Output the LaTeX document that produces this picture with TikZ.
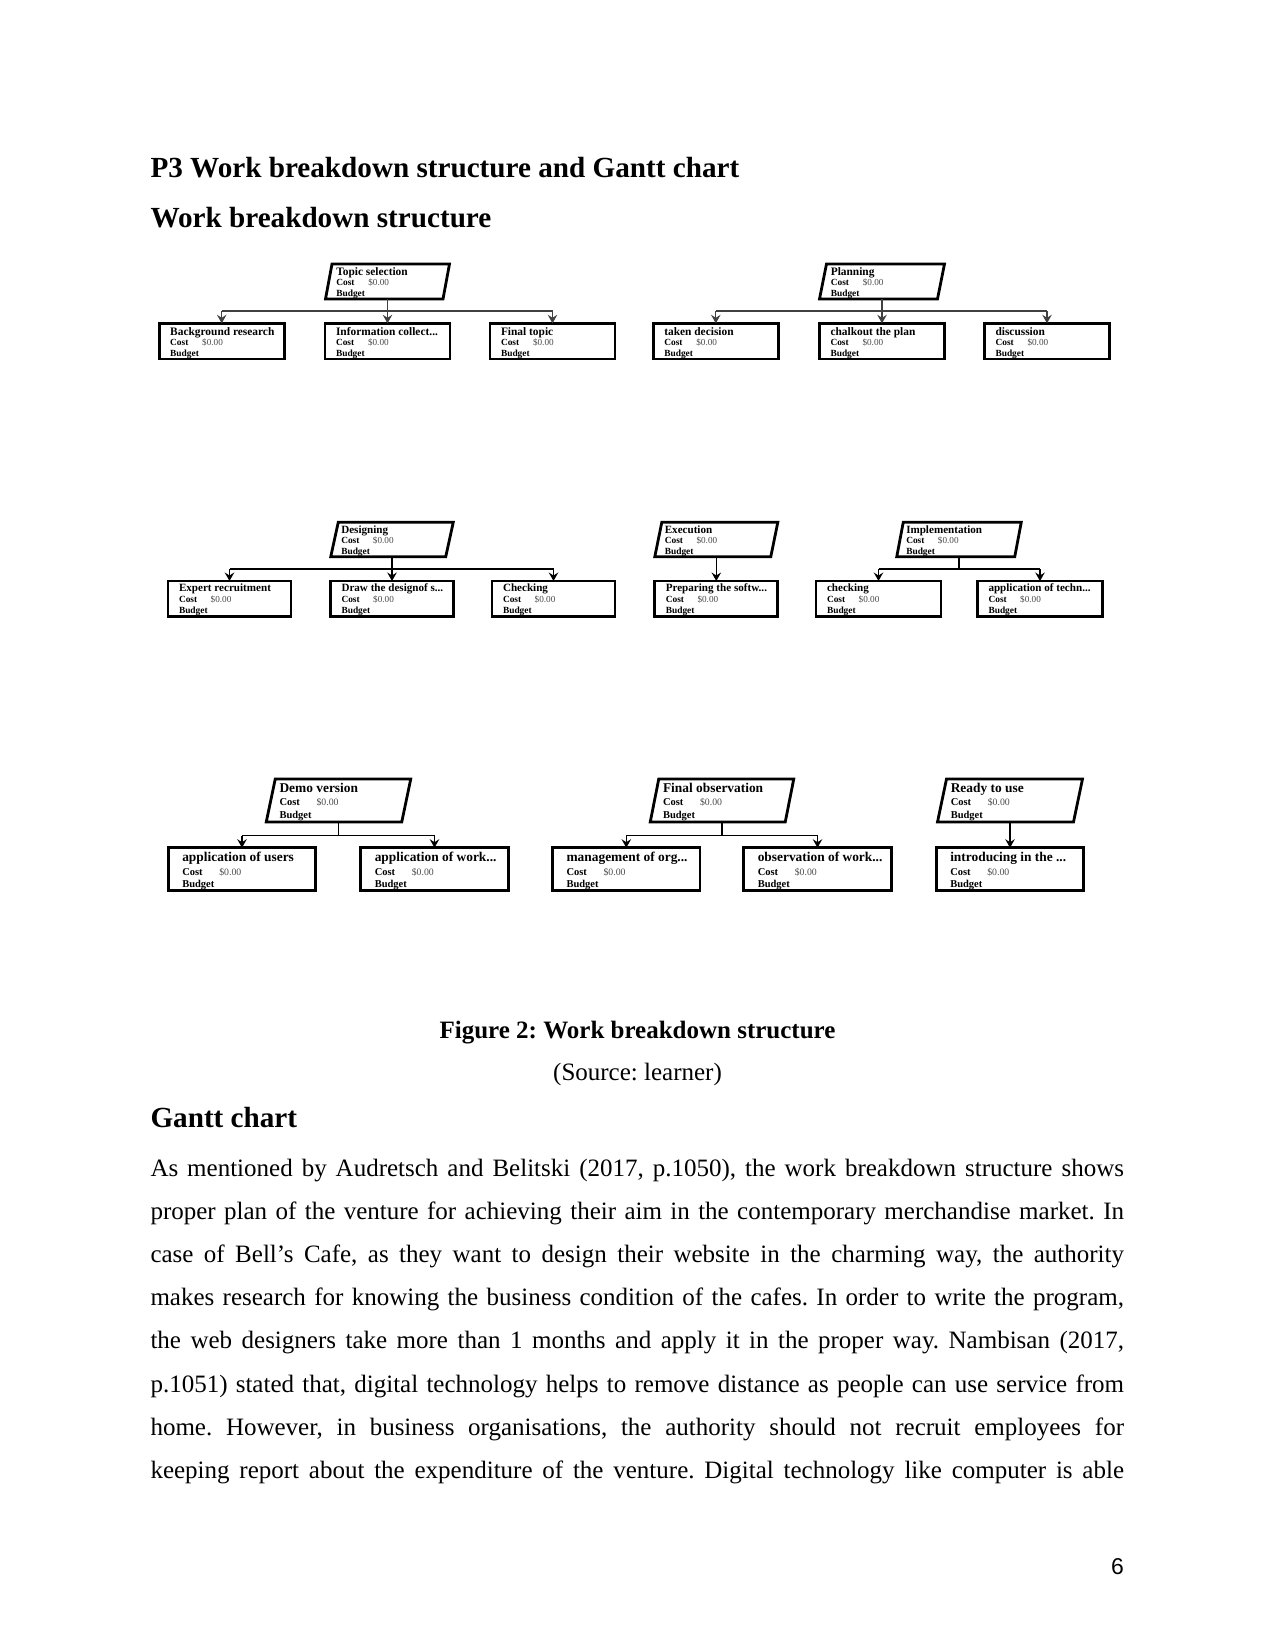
\documentclass[tikz,border=0pt]{standalone}
\usepackage{fontspec}
\setmainfont{Liberation Serif}
\newfontfamily\pagenumfont{Liberation Sans}
\usetikzlibrary{arrows.meta,calc}
\frenchspacing

\tikzset{
  txt/.style={inner sep=0pt, outer sep=0pt, anchor=base west},
  pnode/.style={draw=none, inner sep=0pt, outer sep=0pt},
  boxline/.style={line width=2.8pt, draw=black},
  pline/.style={line width=2.8pt, draw=black, line join=miter},
  conn/.style={line width=1.2pt, draw=black},
  arr/.style={conn, -{Stealth[length=8.5pt,width=9.5pt,inset=3pt]}},
  bodyline/.style={inner sep=0pt, outer sep=0pt, anchor=base west, font=\fontsize{25}{30}\selectfont},
}

% child box: #1 name, #2 centre x, #3 top y, #4 width, #5 title
\newcommand\wbschild[5]{%
  \node[pnode, minimum width=#4, minimum height=\chH, anchor=north] (#1) at (#2,#3) {};
  \node[txt, font=\ttlfont] (#1-t) at ($(#1.north west)+(\chTX,\chTY)$) {#5};
  \node[txt, font=\subfont] (#1-c) at ($(#1.north west)+(\chTX,\chCY)$) {Cost};
  \node[txt, font=\valfont, text=black!70] (#1-v) at ($(#1.north west)+(\chTX+\chDX,\chCY)$) {\$0.00};
  \node[txt, font=\subfont] (#1-b) at ($(#1.north west)+(\chTX,\chBY)$) {Budget};
  \draw[boxline] (#1.north west) rectangle (#1.south east);
}
% parent parallelogram: #1 name, #2 centre x, #3 top y, #4 width, #5 height, #6 slant, #7 title
\newcommand\wbsparent[7]{%
  \node[pnode, minimum width=#4, minimum height=#5, anchor=north] (#1) at (#2,#3) {};
  \coordinate (#1-tl) at ($(#1.north west)+(#6/2,0)$);
  \node[txt, font=\ttlfont] (#1-t) at ($(#1-tl)+(\pTX,\pTY)$) {#7};
  \node[txt, font=\subfont] (#1-c) at ($(#1-tl)+(\pTX,\pCY)$) {Cost};
  \node[txt, font=\valfont, text=black!70] (#1-v) at ($(#1-tl)+(\pTX+\chDX,\pCY)$) {\$0.00};
  \node[txt, font=\subfont] (#1-b) at ($(#1-tl)+(\pTX,\pBY)$) {Budget};
  \draw[pline] ($(#1.north west)+(#6/2,0)$) -- ($(#1.north east)+(#6/2,0)$)
     -- ($(#1.south east)-(#6/2,0)$) -- ($(#1.south west)-(#6/2,0)$) -- cycle;
}

\begin{document}
\begin{tikzpicture}[x=1pt,y=-1pt]
\fill[white] (0,0) rectangle (1275,1651);
\useasboundingbox (0,0) rectangle (1275,1651);

% headings
\node[txt, font=\bfseries\fontsize{29.17}{35}\selectfont] (h1) at (150.5,177.5) {P3 Work breakdown structure and Gantt chart};
\node[txt, font=\bfseries\fontsize{29.17}{35}\selectfont] (h2) at (150.5,227.5) {Work breakdown structure};

% ---------------- row 1 ----------------
\def\chH{35.7}\def\chTX{11}\def\chTY{11.7}\def\chCY{22.4}\def\chBY{33.4}\def\chDX{32}
\def\pTX{4.3}\def\pTY{11}\def\pCY{21.7}\def\pBY{32.7}
\def\ttlfont{\bfseries\fontsize{11.4}{12}\selectfont}
\def\subfont{\bfseries\fontsize{9.4}{10}\selectfont}
\def\valfont{\fontsize{9.2}{10}\selectfont}

\wbsparent{ts}{387.5}{264}{117.5}{35}{6.5}{Topic selection}
\wbschild{br}{221.7}{323.3}{125}{Background research}
\wbschild{ic}{387.5}{323.3}{125}{Information collect...}
\wbschild{ft}{552.5}{323.3}{125}{Final topic}
\coordinate (bus1) at (0,311);
\draw[conn, draw=black!75] (ts.south) -- (ts.south |- bus1);
\draw[conn, draw=black!75] (br.north |- bus1) -- (ft.north |- bus1);
\draw[arr, draw=black!75] (br.north |- bus1) -- (br.north);
\draw[arr, draw=black!75] (ic.north |- bus1) -- (ic.north);
\draw[arr, draw=black!75] (ft.north |- bus1) -- (ft.north);

\wbsparent{pl}{882}{264}{118}{35}{7}{Planning}
\wbschild{td}{715.8}{323.3}{125}{taken decision}
\wbschild{cp}{882}{323.3}{125}{chalkout the plan}
\wbschild{di}{1047}{323.3}{125}{discussion}
\draw[conn, draw=black!75] (pl.south) -- (pl.south |- bus1);
\draw[conn, draw=black!75] (td.north |- bus1) -- (di.north |- bus1);
\draw[arr, draw=black!75] (td.north |- bus1) -- (td.north);
\draw[arr, draw=black!75] (cp.north |- bus1) -- (cp.north);
\draw[arr, draw=black!75] (di.north |- bus1) -- (di.north);

% ---------------- row 2 ----------------
\def\chH{35.7}\def\chTX{11}\def\chTY{10.7}\def\chCY{21.3}\def\chBY{32.3}\def\chDX{31.7}
\def\pTX{3}\def\pTY{11}\def\pCY{21}\def\pBY{32.5}
\def\ttlfont{\bfseries\fontsize{11.1}{12}\selectfont}
\def\subfont{\bfseries\fontsize{9.4}{10}\selectfont}
\def\valfont{\fontsize{9.2}{10}\selectfont}
\coordinate (bus2) at (0,569);

\wbsparent{de}{392}{522.3}{115}{34.4}{7.5}{Designing}
\wbschild{er}{229.5}{581}{123}{Expert recruitment}
\wbschild{dd}{392}{581}{123}{Draw the designof s...}
\wbschild{ch}{553.5}{581}{123}{Checking}
\draw[conn] (de.south) -- (de.south |- bus2);
\draw[conn] (er.north |- bus2) -- (ch.north |- bus2);
\draw[arr] (er.north |- bus2) -- (er.north);
\draw[arr] (dd.north |- bus2) -- (dd.north);
\draw[arr] (ch.north |- bus2) -- (ch.north);

\wbsparent{ex}{716.3}{522.3}{116}{34.4}{7}{Execution}
\wbschild{ps}{716.3}{581}{123}{Preparing the softw...}
\draw[arr] (ex.south) -- (ps.north);

\wbsparent{im}{959}{522.3}{118}{34.4}{6.5}{Implementation}
\wbschild{ck}{878.5}{581}{125}{checking}
\wbschild{at}{1040}{581}{125}{application of techn...}
\draw[conn] (im.south) -- (im.south |- bus2);
\draw[conn] (ck.north |- bus2) -- (at.north |- bus2);
\draw[arr] (ck.north |- bus2) -- (ck.north);
\draw[arr] (at.north |- bus2) -- (at.north);

% ---------------- row 3 ----------------
\def\chH{43}\def\chTX{14}\def\chTY{14}\def\chCY{27.3}\def\chBY{40}\def\chDX{37}
\def\pTX{4.3}\def\pTY{13.3}\def\pCY{26}\def\pBY{39.3}
\def\ttlfont{\bfseries\fontsize{13.4}{14}\selectfont}
\def\subfont{\bfseries\fontsize{10.5}{11}\selectfont}
\def\valfont{\fontsize{9.8}{10}\selectfont}
\coordinate (bus3) at (0,835.7);

\wbsparent{dv}{338.5}{779}{135.5}{43}{9}{Demo version}
\wbschild{au}{242}{847.7}{147.5}{application of users}
\wbschild{aw}{434.5}{847.7}{147.5}{application of work...}
\draw[conn] (dv.south) -- (dv.south |- bus3);
\draw[conn] (au.north |- bus3) -- (aw.north |- bus3);
\draw[arr] (au.north |- bus3) -- (au.north);
\draw[arr] (aw.north |- bus3) -- (aw.north);

\wbsparent{fo}{722}{779}{135}{43}{8.5}{Final observation}
\wbschild{mo}{626.3}{847.7}{147.5}{management of org...}
\wbschild{ow}{817.5}{847.7}{147.5}{observation of work...}
\draw[conn] (fo.south) -- (fo.south |- bus3);
\draw[conn] (mo.north |- bus3) -- (ow.north |- bus3);
\draw[arr] (mo.north |- bus3) -- (mo.north);
\draw[arr] (ow.north |- bus3) -- (ow.north);

\wbsparent{ru}{1010}{779}{136}{43}{9}{Ready to use}
\wbschild{it}{1010}{847.7}{147.5}{introducing in the ...}
\draw[arr] (ru.south) -- (it.north);

% caption
\node[inner sep=0pt, anchor=base, font=\bfseries\fontsize{25}{30}\selectfont] (cap) at (637.5,1038) {Figure 2: Work breakdown structure};
\node[inner sep=0pt, anchor=base, font=\fontsize{25}{30}\selectfont] (src) at (637.5,1080.5) {(Source: learner)};
\node[txt, font=\bfseries\fontsize{29.17}{35}\selectfont] (h3) at (150.5,1127.5) {Gantt chart};

% body text
\node[bodyline] (l1) at (150.5,1176) {\makebox[973.5pt][s]{As mentioned by Audretsch and Belitski (2017, p.1050), the work breakdown structure shows}};
\node[bodyline] (l2) at (150.5,1219.2) {\makebox[973.5pt][s]{proper plan of the venture for achieving their aim in the contemporary merchandise market. In}};
\node[bodyline] (l3) at (150.5,1262.4) {\makebox[973.5pt][s]{case of Bell’s Cafe, as they want to design their website in the charming way, the authority}};
\node[bodyline] (l4) at (150.5,1305.6) {\makebox[973.5pt][s]{makes research for knowing the business condition of the cafes. In order to write the program,}};
\node[bodyline] (l5) at (150.5,1348.8) {\makebox[973.5pt][s]{the web designers take more than 1 months and apply it in the proper way. Nambisan (2017,}};
\node[bodyline] (l6) at (150.5,1392) {\makebox[973.5pt][s]{p.1051) stated that, digital technology helps to remove distance as people can use service from}};
\node[bodyline] (l7) at (150.5,1435.2) {\makebox[973.5pt][s]{home. However, in business organisations, the authority should not recruit employees for}};
\node[bodyline] (l8) at (150.5,1478.4) {\makebox[973.5pt][s]{keeping report about the expenditure of the venture. Digital technology like computer is able}};

% page number
\node[inner sep=0pt, anchor=base east, font=\pagenumfont\fontsize{22.9}{26}\selectfont] (pn) at (1124,1574) {6};
\end{tikzpicture}
\end{document}
